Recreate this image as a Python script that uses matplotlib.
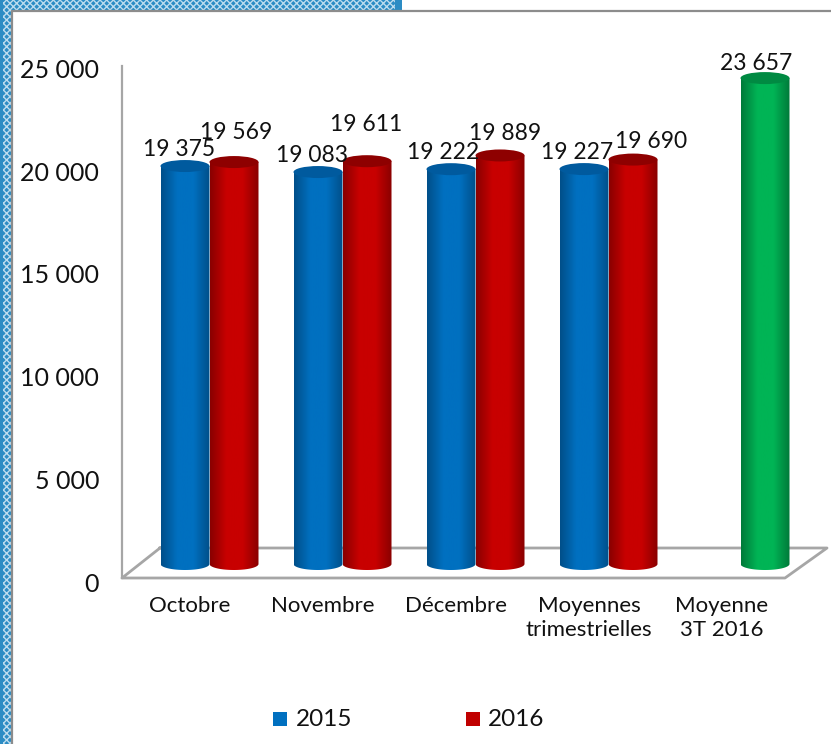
"""Cylinder bar chart, octobre to decembre 2015 and 2016."""

import matplotlib
import matplotlib.pyplot as plt
import numpy as np
from matplotlib.patches import Ellipse, Polygon, Rectangle
from matplotlib.transforms import ScaledTranslation

matplotlib.use("Agg")

categories = ["Octobre", "Novembre", "Décembre", "Moyennes\ntrimestrielles", "Moyenne\n3T 2016"]
values_2015 = [19375, 19083, 19222, 19227]
values_2016 = [19569, 19611, 19889, 19690]
values_avg = [23657]
y_ticks = [0, 5000, 10000, 15000, 20000, 25000]

W, H = 831, 744
PX_PER_UNIT = 0.02054
BASE_PX = 564
BAR_W = 49 / 133
CAP_H = 12 / PX_PER_UNIT
GREY = "#a6a6a6"
FONT = "Lato"
INK = "#111111"
# nudges in pixels, the labels were placed by hand in the original
OFFSET_2015 = [(-6, 6), (-6, 6), (-8, 6), (-7, 6)]
OFFSET_2016 = [(2, 19), (-1, 26), (5, 11), (18, 8)]
OFFSET_AVG = (-10, 4)


def fmt(v):
    return f"{v:,}".replace(",", " ")


def cylinder(ax, x, value, dark, mid, cap):
    """Draw one shaded cylinder centred on x."""
    left, right = x - BAR_W / 2, x + BAR_W / 2
    shade = matplotlib.colors.LinearSegmentedColormap.from_list("s", [dark, mid, mid, dark])
    grad = np.linspace(0, 1, 64).reshape(1, -1)
    im = ax.imshow(grad, extent=[left, right, -CAP_H / 2, value], cmap=shade, aspect="auto", zorder=3)
    ts = np.linspace(np.pi, 2 * np.pi, 40)
    xs = x + BAR_W / 2 * np.cos(ts)
    ys = CAP_H / 2 * np.sin(ts)
    outline = np.vstack([np.column_stack([xs, ys]), [[right, value], [left, value]]])
    clip = Polygon(outline, transform=ax.transData, fc="none", ec="none")
    ax.add_patch(clip)
    im.set_clip_path(clip)
    ax.add_patch(Ellipse((x, value), BAR_W, CAP_H, fc=cap, ec="none", zorder=4))


def value_label(ax, x, value, offset):
    ax.annotate(fmt(value), (x, value), xytext=offset, textcoords="offset pixels",
                ha="center", va="bottom", fontsize=16.5, family=FONT, color=INK, zorder=5)


fig = plt.figure(figsize=(W / 100, H / 100), dpi=100)

# frame drawn in pixels on its own axes
bg = fig.add_axes([0, 0, 1, 1])
bg.set_xlim(0, W)
bg.set_ylim(H, 0)
bg.axis("off")
plt.rcParams["hatch.linewidth"] = 1.0
bg.add_patch(Rectangle((0, 0), 402, 11, fc="#2c8cc4", ec="#bcdcee", hatch="xxxxx", lw=0))
bg.add_patch(Rectangle((0, 0), 11, H, fc="#2c8cc4", ec="#bcdcee", hatch="xxxxx", lw=0))
bg.add_patch(Rectangle((395, 0), 7, 11, fc="#2c8cc4", ec="none"))
bg.add_patch(Rectangle((0, 0), 3, H, fc="#2c8cc4", ec="none"))
bg.plot([12, 12, W], [H, 11, 11], color="#8c8c8c", lw=1.6)

# chart floor and axis
bg.plot([160, 827, 785, 122, 160], [548, 548, 578, 578, 548], color=GREY, lw=2)
bg.plot([122, 122], [66, 578], color=GREY, lw=1.6)

ax = fig.add_axes([0, 0, 1, 1])
ax.patch.set_alpha(0)
ax.set_xlim(-209.5 / 133, (W - 209.5) / 133)
ax.set_ylim(-(H - BASE_PX) / PX_PER_UNIT, BASE_PX / PX_PER_UNIT)
ax.axis("off")

off = 24.5 / 133
for i, (v15, v16) in enumerate(zip(values_2015, values_2016)):
    cylinder(ax, i - off, v15, "#004f8a", "#0070c0", "#005a9e")
    cylinder(ax, i + off, v16, "#8a0000", "#c80000", "#8e0000")
    value_label(ax, i - off, v15, OFFSET_2015[i])
    value_label(ax, i + off, v16, OFFSET_2016[i])
cylinder(ax, 4 + off - 1 / 133, values_avg[0], "#007a3a", "#00b455", "#008a42")
value_label(ax, 4 + off, values_avg[0], OFFSET_AVG)

# tick labels sit on the front of the floor, below the plotted baseline
tick_shift = ScaledTranslation(0, -20 / 100, fig.dpi_scale_trans)
for t in y_ticks:
    ax.text((99 - 209.5) / 133, t, fmt(t), transform=ax.transData + tick_shift,
            ha="right", va="center", fontsize=18, family=FONT, color=INK)

for i, name in enumerate(categories):
    ax.text(i - 19.5 / 133, -(596 - BASE_PX) / PX_PER_UNIT, name, ha="center", va="top", fontsize=16,
            family=FONT, color=INK, linespacing=1.25)

# legend
bg.add_patch(Rectangle((273, 712), 14, 14, fc="#0070c0", ec="none"))
bg.add_patch(Rectangle((466, 712), 14, 14, fc="#c00000", ec="none"))
bg.text(296, 719, "2015", fontsize=17.5, family=FONT, color=INK, va="center")
bg.text(488, 719, "2016", fontsize=17.5, family=FONT, color=INK, va="center")

fig.savefig("out.png", dpi=100)
plt.close(fig)
